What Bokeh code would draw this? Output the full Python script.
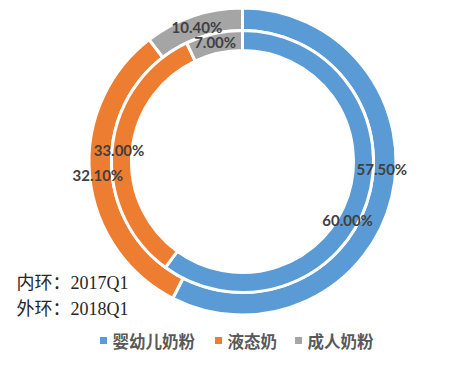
import math
from bokeh.plotting import figure
from bokeh.models import Range1d, ColumnDataSource
from bokeh.core.properties import value
from bokeh.embed import file_html
from bokeh.resources import INLINE

# ---- data ----
categories = ["婴幼儿奶粉", "液态奶", "成人奶粉"]
inner_2017q1 = [60.0, 33.0, 7.0]
outer_2018q1 = [57.5, 32.1, 10.4]
note_lines = ["内环：2017Q1", "外环：2018Q1"]

# ---- styles ----
colors = ["#5B9BD5", "#ED7D31", "#A5A5A5"]
# manual label nudges (px) as in the reference (blue labels dragged apart)
outer_dx, outer_dy = [1, -3, 0], [-26, 1, 0]
inner_dx, inner_dy = [-10, -3, -1], [21, 0, -1]

W, H = 450, 357
p = figure(width=W, height=H, output_backend="svg", toolbar_location=None,
           x_range=Range1d(0, W), y_range=Range1d(-H, 0),
           min_border=0)
p.axis.visible = False
p.grid.visible = False
p.outline_line_color = None
p.background_fill_color = "white"

cx, cy = 242, -161


def ring(vals, r_in, r_out, dxs, dys):
    starts, ends, lx, ly, txt = [], [], [], [], []
    cum = 0.0
    total = sum(vals)
    for v, dx, dy in zip(vals, dxs, dys):
        a0 = math.pi / 2 - 2 * math.pi * cum / total
        a1 = math.pi / 2 - 2 * math.pi * (cum + v) / total
        starts.append(a0)
        ends.append(a1)
        mid = (a0 + a1) / 2
        rm = (r_in + r_out) / 2
        lx.append(cx + rm * math.cos(mid) + dx)
        ly.append(cy + rm * math.sin(mid) - dy)
        txt.append(f"{v:.2f}%")
        cum += v
    src = ColumnDataSource(dict(start=starts, end=ends, color=colors))
    p.annular_wedge(x=cx, y=cy, inner_radius=r_in, outer_radius=r_out,
                    start_angle="start", end_angle="end", direction="clock",
                    fill_color="color", line_color="white", line_width=3,
                    source=src)
    return lx, ly, txt


olx, oly, otxt = ring(outer_2018q1, 131, 153.5, outer_dx, outer_dy)
ilx, ily, itxt = ring(inner_2017q1, 111, 131, inner_dx, inner_dy)

p.text(x=olx + ilx, y=oly + ily, text=otxt + itxt,
       text_font=value("Lato"), text_font_style="bold",
       text_font_size="15px", text_color="#404040",
       text_align="center", text_baseline="middle")

# note text
p.text(x=[16, 16], y=[-282, -308], text=note_lines,
       text_font=value("Liberation Serif, Noto Sans CJK SC"),
       text_font_size="18px", text_color="#262626",
       text_align="left", text_baseline="middle")

# legend
leg_sq_x = [103, 218, 298]
leg_y = -340
p.scatter(x=leg_sq_x, y=[leg_y] * 3, marker="square", size=7,
          fill_color=colors, line_color=None)
p.text(x=[x + 9 for x in leg_sq_x], y=[leg_y] * 3, text=categories,
       text_font=value("Noto Sans CJK SC"), text_font_style="bold",
       text_font_size="16.5px", text_color="#595959",
       text_align="left", text_baseline="middle")

open("out.html", "w").write(file_html(p, INLINE))
